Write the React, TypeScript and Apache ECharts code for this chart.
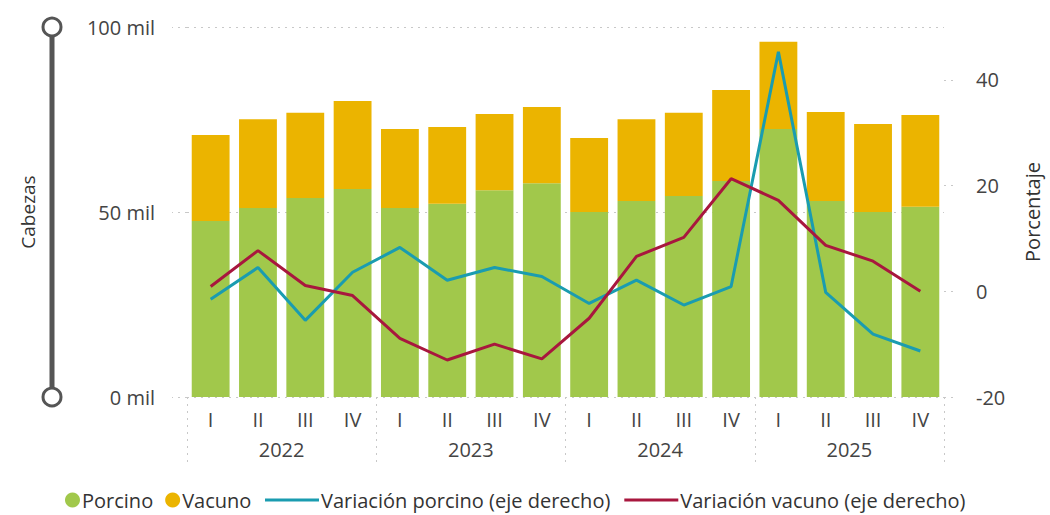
import React, { useEffect, useRef } from "react";
import * as echarts from "echarts";

const quarters = ["I", "II", "III", "IV", "I", "II", "III", "IV", "I", "II", "III", "IV", "I", "II", "III", "IV"];
const years = ["2022", "2023", "2024", "2025"];
const porcino = [47.6, 51.1, 53.8, 56.2, 51.1, 52.2, 55.9, 57.8, 50.0, 53.0, 54.3, 58.4, 72.4, 53.0, 50.0, 51.4];
const vacuno = [23.2, 24.0, 23.0, 23.8, 21.3, 20.8, 20.6, 20.6, 20.0, 22.1, 22.5, 24.6, 23.6, 24.0, 23.8, 24.8];
const varPorcino = [-1.5, 4.5, -5.5, 3.6, 8.3, 2.1, 4.5, 2.8, -2.3, 2.1, -2.6, 0.9, 45.3, -0.2, -8.1, -11.3];
const varVacuno = [0.9, 7.7, 1.1, -0.8, -8.9, -13.0, -10.0, -12.8, -5.1, 6.6, 10.2, 21.3, 17.2, 8.7, 5.7, 0.0];

const GREEN = "#A1C84B";
const YELLOW = "#EBB400";
const TEAL = "#1A9CB0";
const RED = "#A8173E";
const FONT = "Open Sans";
const TXT = "#444";

export default function App() {
  const ref = useRef<HTMLDivElement>(null);
  useEffect(() => {
    document.body.style.margin = "0";
    const chart = echarts.init(ref.current!, null, { renderer: "svg" });
    const dotted = { type: [2, 5] as any, color: "#c8c8c8", width: 1 };
    const legendText = { fontFamily: FONT, fontSize: 20, lineHeight: 22, color: "#333", padding: [0, 0, 0, -3] };
    chart.setOption({
      animation: false,
      textStyle: { fontFamily: FONT },
      grid: { left: 187, right: 103, top: 27, bottom: 118 },
      legend: [
        {
          data: ["Porcino", "Vacuno"],
          left: 60,
          top: 484,
          padding: 5,
          icon: "circle",
          itemWidth: 15,
          itemHeight: 15,
          itemGap: 12,
          textStyle: legendText,
        },
        {
          data: [
            { name: "Variación porcino (eje derecho)", icon: "rect" },
            { name: "Variación vacuno (eje derecho)", icon: "rect" },
          ],
          left: 260,
          top: 484,
          padding: 5,
          itemWidth: 54,
          itemHeight: 3,
          itemGap: 14,
          textStyle: legendText,
        },
      ],
      xAxis: [
        {
          type: "category",
          data: quarters,
          axisLine: { show: false, onZero: false },
          axisTick: { show: false },
          axisLabel: { fontSize: 20, color: TXT, margin: 12 },
        },
        {
          type: "category",
          data: years,
          position: "bottom",
          axisLine: { show: false, onZero: false },
          axisTick: { show: true, inside: false, length: 70, lineStyle: dotted },
          axisLabel: { fontSize: 20, color: TXT, margin: 42 },
        },
      ],
      yAxis: [
        {
          type: "value",
          min: 0,
          max: 100,
          interval: 50,
          name: "Cabezas",
          nameLocation: "middle",
          nameGap: 150,
          nameRotate: 90,
          nameTextStyle: { fontSize: 19, color: "#333" },
          axisLine: { show: false },
          axisTick: { show: true, length: 15, lineStyle: dotted },
          splitLine: { show: true, lineStyle: dotted },
          axisLabel: { fontSize: 20, color: TXT, margin: 32, formatter: (v: number) => `${v} mil` },
        },
        {
          type: "value",
          min: -20,
          max: 50,
          interval: 20,
          name: "Porcentaje",
          nameLocation: "middle",
          nameGap: 78,
          nameRotate: 90,
          nameTextStyle: { fontSize: 20, color: "#333" },
          axisLine: { show: false },
          axisTick: { show: true, length: 14, lineStyle: dotted },
          splitLine: { show: false },
          axisLabel: { fontSize: 20, color: TXT, margin: 32, showMaxLabel: false },
        },
      ],
      graphic: [
        { type: "line", shape: { x1: 52, y1: 36, x2: 52, y2: 388 }, style: { stroke: "#555", lineWidth: 5 } },
        { type: "circle", shape: { cx: 52, cy: 27, r: 9 }, style: { fill: "#fff", stroke: "#555", lineWidth: 3 } },
        { type: "circle", shape: { cx: 52, cy: 397, r: 9 }, style: { fill: "#fff", stroke: "#555", lineWidth: 3 } },
      ],
      series: [
        { name: "Porcino", type: "bar", stack: "total", data: porcino, barWidth: "80%", itemStyle: { color: GREEN } },
        { name: "Vacuno", type: "bar", stack: "total", data: vacuno, barWidth: "80%", itemStyle: { color: YELLOW } },
        {
          name: "Variación porcino (eje derecho)",
          type: "line",
          yAxisIndex: 1,
          data: varPorcino,
          symbol: "none",
          lineStyle: { color: TEAL, width: 3 },
          itemStyle: { color: TEAL },
        },
        {
          name: "Variación vacuno (eje derecho)",
          type: "line",
          yAxisIndex: 1,
          data: varVacuno,
          symbol: "none",
          lineStyle: { color: RED, width: 3 },
          itemStyle: { color: RED },
        },
      ],
    });
    return () => chart.dispose();
  }, []);
  return <div ref={ref} style={{ width: 1050, height: 515 }} />;
}
